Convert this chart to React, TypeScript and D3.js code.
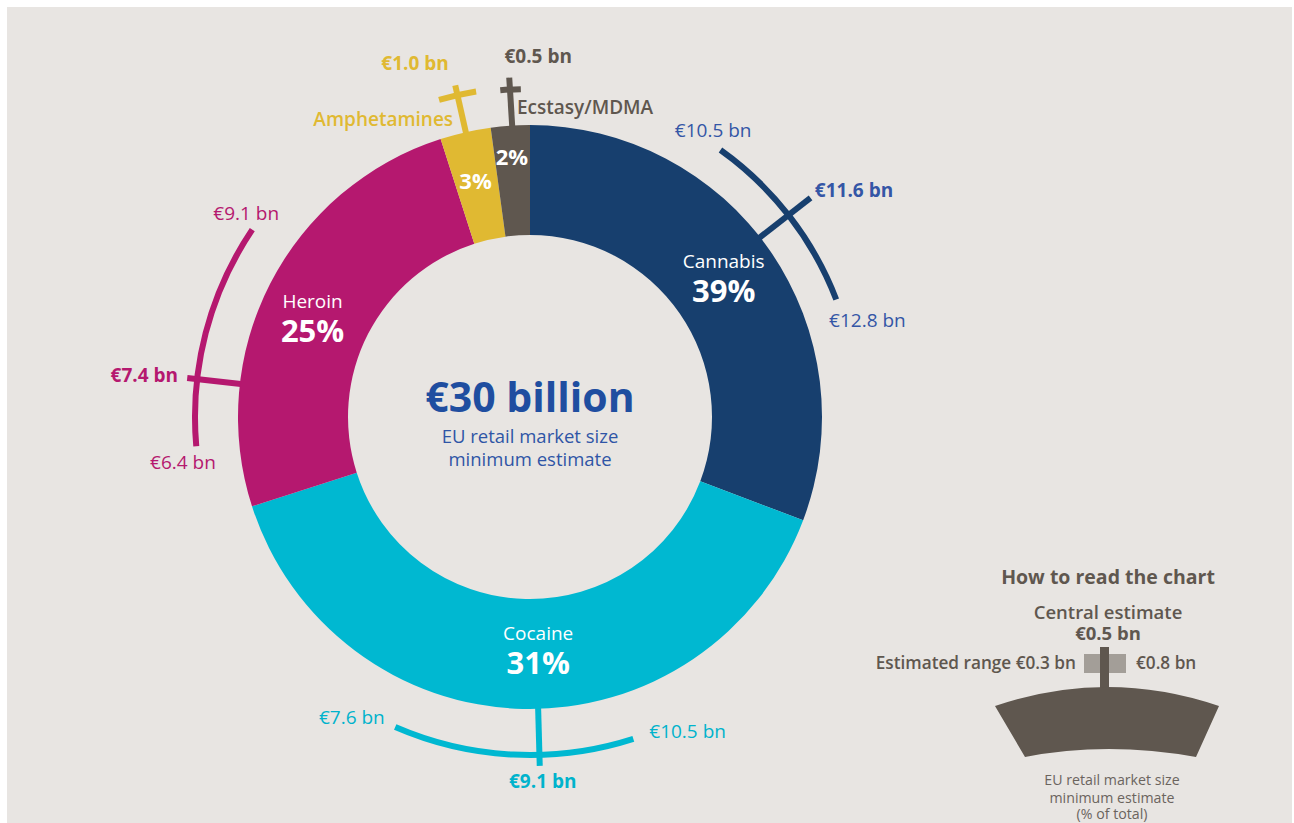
import React from 'react';
import * as d3 from 'd3';

// ---- data ----
const categories = ['Cannabis', 'Cocaine', 'Heroin', 'Amphetamines', 'Ecstasy/MDMA'];
const printedShares = [39, 31, 25, 3, 2]; // % printed on the ring
const drawnShares = [30.75, 39.3, 25.0, 2.8, 2.15]; // angular share of each slice as drawn
const centralEstimate = [11.6, 9.1, 7.4, 1.0, 0.5];
const lowEstimate = [10.5, 7.6, 6.4, null, null];
const highEstimate = [12.8, 10.5, 9.1, null, null];
const totalLabel = '€30 billion';
const legendCentral = 0.5;
const legendLow = 0.3;
const legendHigh = 0.8;

// ---- styles / layout ----
const FONT = "'Open Sans', 'Noto Sans', sans-serif";
const BG = '#e8e5e2';
const sliceColors = ['#173f6e', '#00b8d1', '#b5186f', '#e0b932', '#5f574f'];
const textColors = ['#3456a6', '#00b3cc', '#b5186f', '#e0b932', '#5f574f'];
const CX = 530, CY = 417, R_IN = 182, R_OUT = 292;

// angle (deg, clockwise from north) of [low, central, high] for each range mark
const rangeAngles = [
  [35.5, 52, 69],
  [203.5, 178.4, 162.2],
  [265, 276.5, 304],
  [344, 347.3, 350.6],
  [354.8, 356.5, 358.4],
];
const rangeRadius = [328, 338, 335, 330, 328];
const tickOuter = [356, 349, 345, 340, 340];

type Lbl = { a: number; r: number; anchor: string };
const lowLabelPos: (Lbl | null)[] = [
  { a: 32.6, r: 340, anchor: 'middle' },
  { a: 210.7, r: 349, anchor: 'middle' },
  { a: 262.6, r: 350, anchor: 'middle' },
  null, null,
];
const highLabelPos: (Lbl | null)[] = [
  { a: 74, r: 351, anchor: 'middle' },
  { a: 153.4, r: 352, anchor: 'middle' },
  { a: 305.6, r: 349, anchor: 'middle' },
  null, null,
];
const centralLabelPos: Lbl[] = [
  { a: 51.5, r: 364, anchor: 'start' },
  { a: 178, r: 365, anchor: 'middle' },
  { a: 276.8, r: 354.5, anchor: 'end' },
  { a: 342, r: 372, anchor: 'middle' },
  { a: 1.3, r: 361, anchor: 'middle' },
];
const sliceLabelPos = [
  { a: 54.8, r: 237, big: true },
  { a: 178, r: 235, big: true },
  { a: 294, r: 238, big: true },
  { a: 347, r: 242, big: false },
  { a: 356, r: 260, big: false },
];
const outerNamePos: (Lbl | null)[] = [
  null, null, null,
  { a: 345.5, r: 307, anchor: 'end' },
  { a: 357.6, r: 310, anchor: 'start' },
];

const rad = (d: number) => (d * Math.PI) / 180;
const polar = (deg: number, r: number): [number, number] => [
  CX + r * Math.sin(rad(deg)),
  CY - r * Math.cos(rad(deg)),
];
const fmt = (v: number) => `€${v.toFixed(1)} bn`;

function rangeArcPath(a0: number, a1: number, r: number) {
  const p = d3.path();
  const s = Math.min(a0, a1), e = Math.max(a0, a1);
  p.arc(CX, CY, r, rad(s - 90), rad(e - 90), false);
  return p.toString();
}

export default function App() {
  const pie = d3.pie<number>().sort(null).value((d) => d);
  const arcs = pie(drawnShares);
  const arcGen = d3.arc<d3.PieArcDatum<number>>().innerRadius(R_IN).outerRadius(R_OUT);

  // legend geometry
  const LX = 1107;
  const legendShape = (() => {
    const p = d3.path();
    p.moveTo(LX - 112, 706);
    p.quadraticCurveTo(LX, 668, LX + 112, 706);
    p.lineTo(LX + 89, 757);
    p.quadraticCurveTo(LX, 741, LX - 82, 757);
    p.closePath();
    return p.toString();
  })();
  const legendScale = d3.scaleLinear().domain([legendLow, legendHigh]).range([LX - 23, LX + 19]);

  return (
    <svg width={1294} height={823} style={{ position: 'absolute', left: 0, top: 0 }} fontFamily={FONT}>
      <rect x={7} y={7} width={1285} height={820} fill={BG} />
      {/* ring */}
      <g transform={`translate(${CX},${CY})`}>
        {arcs.map((a, i) => (
          <path key={i} d={arcGen(a) || ''} fill={sliceColors[i]} />
        ))}
      </g>

      {/* ranges & ticks */}
      {categories.map((c, i) => {
        const angs = rangeAngles[i];
        const lo = lowEstimate[i], hi = highEstimate[i];
        const scale = d3
          .scaleLinear()
          .domain(lo != null && hi != null ? [lo, centralEstimate[i], hi] : [0, 1, 2])
          .range(angs);
        const aLo = scale(lo != null ? lo : 0);
        const aHi = scale(hi != null ? hi : 2);
        const aC = scale(lo != null ? centralEstimate[i] : 1);
        const [x1, y1] = polar(aC, R_OUT - 1);
        const [x2, y2] = polar(aC, tickOuter[i]);
        return (
          <g key={c}>
            <path d={rangeArcPath(aLo, aHi, rangeRadius[i])} fill="none" stroke={sliceColors[i]} strokeWidth={6} />
            <line x1={x1} y1={y1} x2={x2} y2={y2} stroke={sliceColors[i]} strokeWidth={6} />
          </g>
        );
      })}

      {/* range labels */}
      {categories.map((c, i) => {
        const out: any[] = [];
        const lp = lowLabelPos[i], hp = highLabelPos[i], cp = centralLabelPos[i];
        if (lp && lowEstimate[i] != null) {
          const [x, y] = polar(lp.a, lp.r);
          out.push(
            <text key="lo" x={x} y={y} dy="0.35em" textAnchor={lp.anchor} fontSize={19} fill={textColors[i]}>
              {fmt(lowEstimate[i] as number)}
            </text>
          );
        }
        if (hp && highEstimate[i] != null) {
          const [x, y] = polar(hp.a, hp.r);
          out.push(
            <text key="hi" x={x} y={y} dy="0.35em" textAnchor={hp.anchor} fontSize={19} fill={textColors[i]}>
              {fmt(highEstimate[i] as number)}
            </text>
          );
        }
        {
          const [x, y] = polar(cp.a, cp.r);
          out.push(
            <text key="c" x={x} y={y} dy="0.35em" textAnchor={cp.anchor} fontSize={19} fontWeight={700} fill={textColors[i]}>
              {fmt(centralEstimate[i])}
            </text>
          );
        }
        const np = outerNamePos[i];
        if (np) {
          const [x, y] = polar(np.a, np.r);
          out.push(
            <text key="n" x={x} y={y} dy="0.35em" textAnchor={np.anchor} fontSize={19} fontWeight={600} fill={textColors[i]}>
              {c}
            </text>
          );
        }
        return <g key={c}>{out}</g>;
      })}

      {/* slice labels */}
      {categories.map((c, i) => {
        const sp = sliceLabelPos[i];
        const [x, y] = polar(sp.a, sp.r);
        if (sp.big) {
          return (
            <g key={c} fill="#ffffff" textAnchor="middle">
              <text x={x} y={y - 12} fontSize={19}>{c}</text>
              <text x={x} y={y + 22} fontSize={31} fontWeight={700}>{printedShares[i]}%</text>
            </g>
          );
        }
        return (
          <text key={c} x={x} y={y} dy="0.35em" textAnchor="middle" fill="#ffffff" fontSize={22} fontWeight={700}>
            {printedShares[i]}%
          </text>
        );
      })}

      {/* centre */}
      <g textAnchor="middle" fill="#1f4ea0">
        <text x={CX} y={412} fontSize={41} fontWeight={700}>{totalLabel}</text>
        <text x={CX} y={443} fontSize={18.5} fill="#2f55a6">EU retail market size</text>
        <text x={CX} y={466} fontSize={18.5} fill="#2f55a6">minimum estimate</text>
      </g>

      {/* legend */}
      <g fill="#5f574f">
        <text x={1108} y={584} textAnchor="middle" fontSize={19.5} fontWeight={700}>How to read the chart</text>
        <text x={1108} y={619} textAnchor="middle" fontSize={18.5} fontWeight={600}>Central estimate</text>
        <text x={1108} y={640} textAnchor="middle" fontSize={18.5} fontWeight={700}>{fmt(legendCentral)}</text>
        <text x={1076} y={669} textAnchor="end" fontSize={17.2} fontWeight={600}>Estimated range {fmt(legendLow)}</text>
        <text x={1136} y={669} textAnchor="start" fontSize={17.2} fontWeight={600}>{fmt(legendHigh)}</text>
        <rect x={legendScale(legendLow)} y={654} width={legendScale(legendHigh) - legendScale(legendLow)} height={19} fill="#a39e98" />
        <rect x={1100} y={647} width={9} height={44} fill="#5f574f" />
        <path d={legendShape} fill="#5f574f" />
        <g fill="#6b645e" fontSize={14.2} textAnchor="middle">
          <text x={1112} y={785}>EU retail market size</text>
          <text x={1112} y={803}>minimum estimate</text>
          <text x={1112} y={819}>(% of total)</text>
        </g>
      </g>
    </svg>
  );
}
